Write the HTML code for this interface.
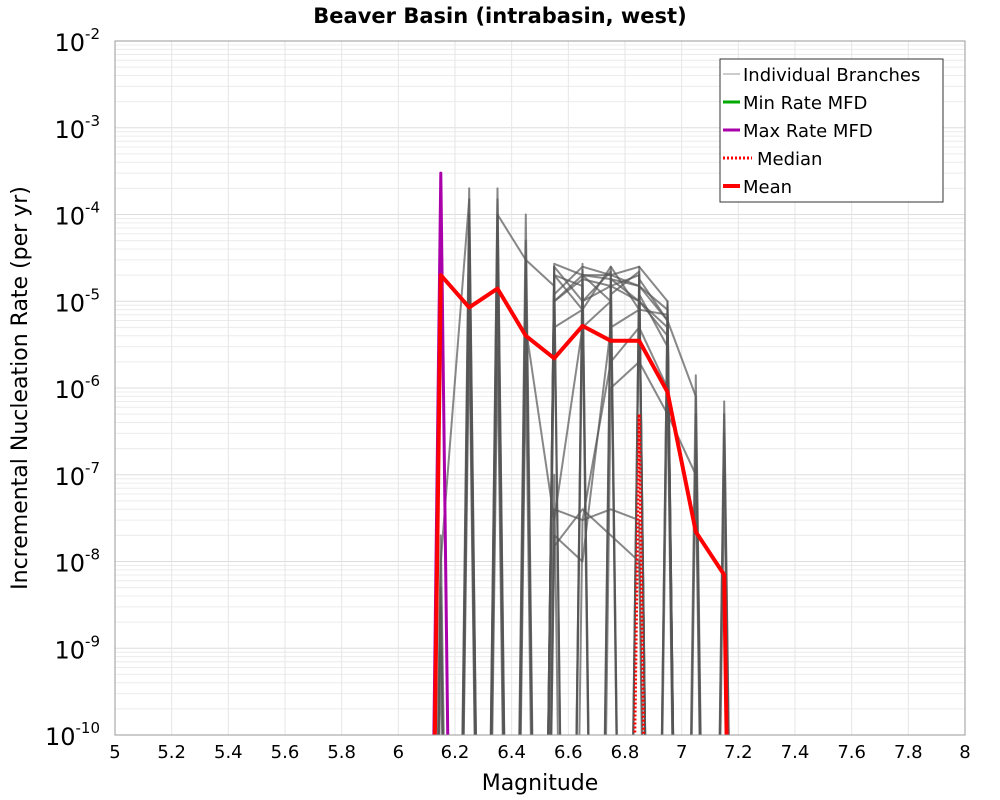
<!DOCTYPE html>
<html><head><meta charset="utf-8"><style>
html,body{margin:0;padding:0;background:#fff;overflow:hidden;width:1000px;height:800px}
svg{display:block}
svg text{font-family:"DejaVu Sans","Liberation Sans",sans-serif}
</style></head><body>
<svg id="chart" width="1000" height="800" xmlns="http://www.w3.org/2000/svg">
<defs><clipPath id="pc"><rect x="115" y="41" width="850" height="694"/></clipPath></defs>
<rect width="1000" height="800" fill="#fff"/>
<text x="500" y="23" text-anchor="middle" font-size="21" font-weight="bold">Beaver Basin (intrabasin, west)</text>
<g id="grid"></g>
<g id="series" clip-path="url(#pc)"></g>
<rect x="115" y="41" width="850" height="694" fill="none" stroke="#999"/>
<g id="axes"></g>
<text x="540" y="790" text-anchor="middle" font-size="22">Magnitude</text>
<text transform="translate(27,388) rotate(-90)" text-anchor="middle" font-size="22">Incremental Nucleation Rate (per yr)</text>
<g>
<rect x="720" y="59" width="223" height="143" fill="#fff" stroke="#333"/>
<g><line x1="723" y1="74" x2="740" y2="74" stroke="#bbb" stroke-width="1.5"/><text x="743" y="81" font-size="18">Individual Branches</text></g>
<g><line x1="723" y1="102" x2="740" y2="102" stroke="#0a0" stroke-width="3"/><text x="743" y="109" font-size="18">Min Rate MFD</text></g>
<g><line x1="723" y1="130" x2="740" y2="130" stroke="#a0a" stroke-width="3"/><text x="743" y="137" font-size="18">Max Rate MFD</text></g>
<g><line x1="723" y1="158" x2="752" y2="158" stroke="red" stroke-width="3" stroke-dasharray="2,2"/><text x="757" y="165" font-size="18">Median</text></g>
<g><line x1="723" y1="186" x2="740" y2="186" stroke="red" stroke-width="4"/><text x="743" y="193" font-size="18">Mean</text></g>
</g>
</svg>
<script>
const mags=[6.05,6.15,6.25,6.35,6.45,6.55,6.65,6.75,6.85,6.95,7.05,7.15,7.25];
const meanVals=[0,2e-5,8.5e-6,1.4e-5,4e-6,2.2e-6,5.2e-6,3.5e-6,3.5e-6,9e-7,2.2e-8,7e-9,0];
const medianVals=[0,0,0,0,0,0,0,0,5e-7,0,0,0,0];
const maxVals=[0,3e-4,0,0,0,0,0,0,0,0,0,0,0];
const minVals=[0,0,0,0,0,0,0,0,0,0,0,0,0];
const branches=[
[0,0,2e-4,0,1e-4,0,2.7e-5,0,2.5e-5,0,1.4e-6,0,0],
[0,2e-8,0,2e-4,0,2.5e-5,0,2.5e-5,0,1e-5,0,7e-7,0],
[0,0,1e-4,0,5e-5,0,2e-5,2e-5,1.5e-5,8e-6,0,0,0],
[0,1e-9,0,1e-4,0,2e-5,1.5e-5,0,2e-5,0,5e-7,0,0],
[0,0,5e-5,0,3e-5,1.5e-5,0,1.8e-5,1e-5,5e-6,0,3e-7,0],
[0,5e-9,0,6e-5,0,1e-5,2e-5,1e-5,0,7e-6,0,0,0],
[0,0,2e-5,0,1e-5,0,1e-5,1.5e-5,2e-5,0,2e-7,0,0],
[0,0,0,3e-5,0,5e-6,8e-6,0,1.2e-5,3e-6,0,1e-7,0],
[0,0,1e-5,0,5e-6,3e-8,5e-6,1e-5,0,2e-6,0,0,0],
[0,3e-9,0,1e-5,0,2e-8,1e-8,5e-6,8e-6,0,0,0,0],
[0,0,5e-6,0,2e-6,0,3e-8,2e-6,5e-6,1e-6,0,0,0],
[0,0,0,3e-6,0,1e-7,0,1e-6,2e-6,5e-7,1e-7,0,0],
[0,0,1e-4,0,0,2.5e-5,1e-5,2.2e-5,0,9e-6,0,0,0],
[0,0,0,1e-4,3e-5,0,2.3e-5,0,1.8e-5,6e-6,8e-7,0,0],
[0,1e-8,1.5e-4,0,0,1.8e-5,0,1.2e-5,2.2e-5,0,0,5e-7,0],
[0,0,0,1.5e-4,0,1e-5,1.8e-5,1.5e-5,1e-5,4e-6,0,0,0],
[0,0,0,0,0,2.7e-5,2e-5,1.8e-5,1.5e-5,6e-6,0,0,0],
[0,0,0,0,0,1.2e-5,2.5e-5,2e-5,2.5e-5,1e-5,0,0,0],
[0,0,0,0,0,2e-5,8e-6,2.5e-5,8e-6,7e-6,0,0,0],
[0,0,0,0,0,4e-8,3e-8,4e-8,3e-8,0,0,0,0],
[0,0,0,0,0,1.5e-8,4e-8,2e-8,1e-8,0,0,0,0]
];
const xTicks=[5,5.2,5.4,5.6,5.8,6,6.2,6.4,6.6,6.8,7,7.2,7.4,7.6,7.8,8];
const yExps=[-2,-3,-4,-5,-6,-7,-8,-9,-10];
const X0=115,X1=965,Y0=41,Y1=735;
const xs=m=>X0+(m-5)/3*(X1-X0);
const ys=v=>{const l=v>0?Math.log10(v):-30;return Y0+(-2-l)/8*(Y1-Y0);};
const NS="http://www.w3.org/2000/svg";
function mk(p,t,a){const e=document.createElementNS(NS,t);for(const k in a)e.setAttribute(k,a[k]);p.appendChild(e);return e;}
const grid=document.getElementById('grid'),axes=document.getElementById('axes'),ser=document.getElementById('series');
for(let d=-10;d<-2;d++)for(let k=1;k<10;k++){const y=ys(k*Math.pow(10,d));
const l=mk(grid,'line',{x1:X0,x2:X1,y1:y,y2:y,stroke:k==1?'#ddd':'#ececec'});

}
xTicks.forEach(t=>{const x=xs(t);
const l=mk(grid,'line',{x1:x,x2:x,y1:Y0,y2:Y1,stroke:'#e6e6e6'});


const tx=mk(axes,'text',{x:x,y:758,'text-anchor':'middle','font-size':18});tx.textContent=String(t);

});
yExps.forEach(e=>{const y=ys(Math.pow(10,e));
const tx=mk(axes,'text',{x:100,y:y+10,'text-anchor':'end','font-size':24});


tx.textContent='10';const s=mk(tx,'tspan',{dy:-12,'font-size':15});s.textContent=String(e);});
function line(vals,attrs,name){const d=vals.map((v,i)=>(i?'L':'M')+xs(mags[i]).toFixed(1)+','+ys(v).toFixed(1)).join('');
const p=mk(ser,'path',Object.assign({d:d,fill:'none','stroke-linejoin':'round'},attrs));

}
branches.forEach(b=>line(b,{stroke:'#555','stroke-opacity':0.7,'stroke-width':2},'branch-line'));
line(minVals,{stroke:'#0a0','stroke-width':3},'min-rate-line');
line(maxVals,{stroke:'#a0a','stroke-width':3},'max-rate-line');
line(medianVals,{stroke:'red','stroke-width':3,'stroke-dasharray':'2,2'},'median-line');
line(meanVals,{stroke:'red','stroke-width':4},'mean-line');
</script>
</body></html>
